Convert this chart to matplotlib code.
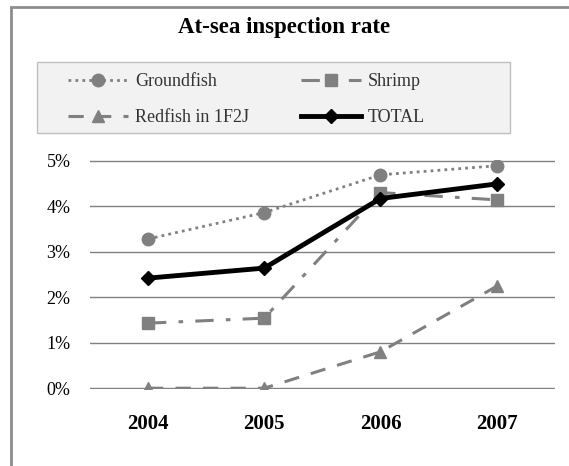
import matplotlib.pyplot as plt
from matplotlib.patches import Rectangle
from matplotlib.ticker import FuncFormatter

years = ['2004', '2005', '2006', '2007']
groundfish = [3.28, 3.86, 4.69, 4.89]
shrimp = [1.43, 1.54, 4.30, 4.14]
redfish = [0.0, 0.0, 0.80, 2.24]
total = [2.42, 2.64, 4.17, 4.49]

plt.rcParams['font.family'] = ['Liberation Serif', 'DejaVu Serif']

fig = plt.figure(figsize=(5.69, 4.66), dpi=100)
ax = fig.add_axes([0.158, 0.165, 0.817, 0.492])

x = range(len(years))
gray = '#808080'
l1, = ax.plot(x, groundfish, color=gray, ls=(0, (1, 1.5)), lw=2, marker='o', ms=9, label='Groundfish')
l2, = ax.plot(x, shrimp, color=gray, ls=(0, (6, 4, 1.5, 4)), lw=2.2, marker='s', ms=9, label='Shrimp')
l3, = ax.plot(x, redfish, color=gray, ls=(0, (5, 4)), lw=2.2, marker='^', ms=9, label='Redfish in 1F2J')
l4, = ax.plot(x, total, color='black', lw=3.5, marker='D', ms=7, label='TOTAL')

ax.set_xlim(-0.5, 3.5)
ax.set_ylim(-0.02, 5.02)
ax.set_yticks(range(6))
ax.yaxis.set_major_formatter(FuncFormatter(lambda v, p: f'{int(v)}%'))
ax.set_xticks(list(x))
ax.set_xticklabels(years, fontweight='bold', fontsize=15)
ax.tick_params(axis='y', length=0, pad=14, labelsize=13)
ax.tick_params(axis='x', length=0, pad=18)
ax.grid(axis='y', color='#808080', lw=1)
ax.set_axisbelow(True)
for s in ax.spines.values():
    s.set_visible(False)

fig.text(0.5, 0.94, 'At-sea inspection rate', ha='center', va='center',
         fontsize=16.5, fontweight='bold')

# legend box drawn separately so the columns keep their own spacing
fig.add_artist(Rectangle((0.065, 0.7146), 0.831, 0.152, transform=fig.transFigure,
                         facecolor='#f2f2f2', edgecolor='#bfbfbf', lw=1))
leg = fig.legend([l1, l3, l2, l4], ['Groundfish', 'Redfish in 1F2J', 'Shrimp', 'TOTAL'],
                 ncol=2, loc='upper left', bbox_to_anchor=(68 / 569, 1 - 73 / 466),
                 fontsize=13, handlelength=3.3, handletextpad=0.4, frameon=False,
                 borderaxespad=0, borderpad=0, columnspacing=2.9, labelspacing=1.05)
for t in leg.get_texts():
    t.set_color('#333333')

fig.add_artist(Rectangle((0.019, -0.1), 1.1, 1.085, transform=fig.transFigure,
                         fill=False, edgecolor='#8c8c8c', lw=2))

fig.savefig('out.png', dpi=100)
